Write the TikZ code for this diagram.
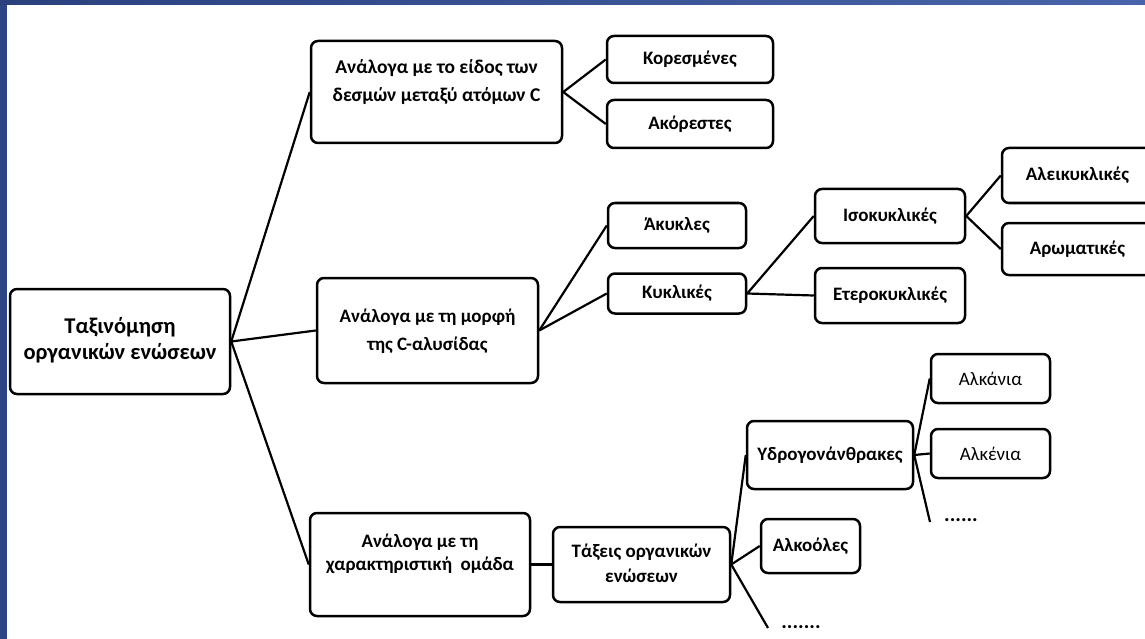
\documentclass[tikz,border=0pt]{standalone}
\usepackage{fontspec}
\setmainfont{Carlito}
\definecolor{frameblue}{HTML}{2C4684}
\definecolor{frametopL}{HTML}{2B417E}
\definecolor{frametopR}{HTML}{4864AA}
\newcommand{\twolines}[2]{\begin{tabular}{@{}c@{}}#1\\#2\end{tabular}}
\begin{document}
\begin{tikzpicture}[x=1pt,y=-1pt,
  box/.style={draw=black, line width=2.5pt, rounded corners=7pt, fill=white,
    inner sep=0pt, align=center, font=\fontsize{19}{28}\selectfont\bfseries},
  link/.style={draw=black, line width=2.2pt},
  dots/.style={font=\fontsize{21}{22}\selectfont\bfseries, inner sep=0pt}]
\useasboundingbox (0,0) rectangle (1145,639);
\clip (0,0) rectangle (1145,639);
\fill[white] (0,0) rectangle (1145,639);
\fill[frameblue] (0,0) rectangle (7,639);
\shade[left color=frametopL, right color=frametopR] (0,0) rectangle (1145,5);

% nodes
\node[box, minimum width=220pt, minimum height=105pt, font=\fontsize{22.5}{26}\selectfont\bfseries] (root) at (120,341.5)
  {\twolines{Ταξινόμηση}{οργανικών ενώσεων}};
\node[box, minimum width=251pt, minimum height=102pt, font=\fontsize{19.5}{28}\selectfont\bfseries] (a1) at (436.5,92)
  {\raisebox{10pt}[\height][\depth]{\twolines{Ανάλογα με το είδος των}{δεσμών μεταξύ ατόμων C}}};
\node[box, minimum width=166pt, minimum height=47pt] (kor) at (690,59.5) {Κορεσμένες};
\node[box, minimum width=166pt, minimum height=48pt] (akor) at (690,124) {Ακόρεστες};

\node[box, minimum width=221pt, minimum height=105pt] (a2) at (427.5,330.5)
  {\twolines{Ανάλογα με τη μορφή}{της C-αλυσίδας}};
\node[box, minimum width=138pt, minimum height=45pt] (akykl) at (677,225.5) {Άκυκλες};
\node[box, minimum width=138pt, minimum height=40pt] (kykl) at (677,293.5) {Κυκλικές};
\node[box, minimum width=150pt, minimum height=54pt] (iso) at (890,216) {Ισοκυκλικές};
\node[box, minimum width=150pt, minimum height=55pt] (etero) at (890,295.5) {Ετεροκυκλικές};
\node[box, minimum width=151pt, minimum height=55pt] (alei) at (1077.5,175.5) {Αλεικυκλικές};
\node[box, minimum width=151pt, minimum height=52pt] (arom) at (1077.5,249) {Αρωματικές};

\node[box, minimum width=220pt, minimum height=103pt, font=\fontsize{19}{23}\selectfont\bfseries] (a3) at (420,564.5)
  {\raisebox{10pt}[\height][\depth]{\twolines{Ανάλογα με τη}{χαρακτηριστική\ \ ομάδα}}};
\node[box, minimum width=177pt, minimum height=75pt, font=\fontsize{19}{25}\selectfont\bfseries] (taxeis) at (641.5,564.5)
  {\twolines{Τάξεις οργανικών}{ενώσεων}};
\node[box, minimum width=166pt, minimum height=68pt] (ydro) at (830,455) {Υδρογονάνθρακες};
\node[box, minimum width=119pt, minimum height=49pt, font=\fontsize{19}{20}\selectfont] (alkania) at (990.5,378.5) {Αλκάνια};
\node[box, minimum width=119pt, minimum height=49pt, font=\fontsize{19}{20}\selectfont] (alkenia) at (990.5,453.5) {Αλκένια};
\node[box, minimum width=99pt, minimum height=54pt] (alkooles) at (810.5,546) {Αλκοόλες};

\node[dots] (dotsA) at (961,520) {......};
\node[dots] (dotsB) at (801,627) {.......};
\coordinate (endA) at (930,522);
\coordinate (endB) at (768,628);

% connectors
\draw[link] (root.east) -- (a1.west);
\draw[link] (root.east) -- (a2.west);
\draw[link] (root.east) -- (a3.west);
\draw[link] (a1.east) -- (kor.west);
\draw[link] (a1.east) -- (akor.west);
\draw[link] (a2.east) -- (akykl.west);
\draw[link] (a2.east) -- (kykl.west);
\draw[link] (kykl.east) -- (iso.west);
\draw[link] (kykl.east) -- (etero.west);
\draw[link] (iso.east) -- (alei.west);
\draw[link] (iso.east) -- (arom.west);
\draw[link] (a3.east) -- (taxeis.west);
\draw[link] (taxeis.east) -- (ydro.west);
\draw[link] (taxeis.east) -- (alkooles.west);
\draw[link] (taxeis.east) -- (endB);
\draw[link] (ydro.east) -- (alkania.west);
\draw[link] (ydro.east) -- (alkenia.west);
\draw[link] (ydro.east) -- (endA);
\end{tikzpicture}
\end{document}
